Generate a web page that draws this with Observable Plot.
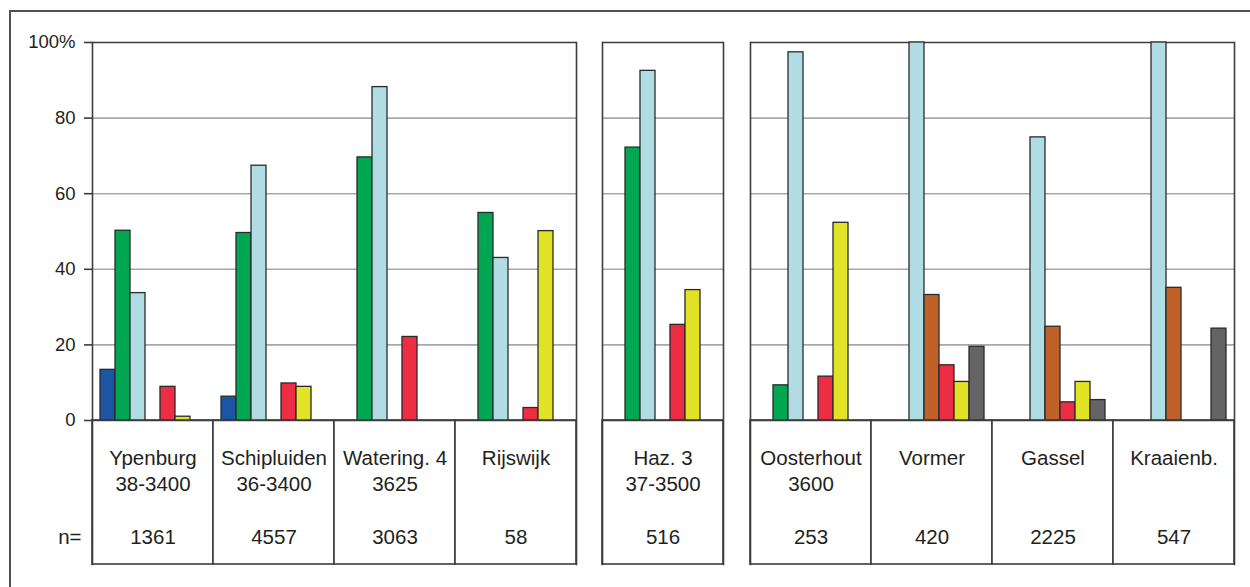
<!DOCTYPE html>
<html>
<head>
<meta charset="utf-8">
<script src="https://cdn.jsdelivr.net/npm/d3@7"></script>
<script src="https://cdn.jsdelivr.net/npm/@observablehq/plot@0.6"></script>
<style>
  html, body { margin: 0; padding: 0; background: #fff; }
  #wrap { position: relative; width: 1250px; height: 587px; overflow: hidden; background: #fff; }
  #outer { position: absolute; left: 9px; top: 10px; width: 1260px; height: 600px;
           border-top: 2px solid #505050; border-left: 2px solid #505050; box-sizing: border-box; }
  .panel { position: absolute; top: 0; }
</style>
</head>
<body>
<div id="wrap"><div id="outer"></div></div>
<script>
// ---- data ----
const sites = ["Ypenburg", "Schipluiden", "Watering. 4", "Rijswijk", "Haz. 3", "Oosterhout", "Vormer", "Gassel", "Kraaienb."];
const siteCodes = ["38-3400", "36-3400", "3625", "", "37-3500", "3600", "", "", ""];
const nValues = [1361, 4557, 3063, 58, 516, 253, 420, 2225, 547];
const panelGroups = [
  ["Ypenburg", "Schipluiden", "Watering. 4", "Rijswijk"],
  ["Haz. 3"],
  ["Oosterhout", "Vormer", "Gassel", "Kraaienb."]
];
const seriesKeys = ["blauw", "groen", "lichtblauw", "bruin", "rood", "geel", "grijs"];
const blauw      = [13.4, 6.3, null, null, null, null, null, null, null];
const groen      = [50.2, 49.6, 69.6, 54.9, 72.2, 9.3, null, null, null];
const lichtblauw = [33.7, 67.4, 88.2, 43.0, 92.5, 97.4, 100, 74.9, 100];
const bruin      = [null, null, null, null, null, null, 33.2, 24.8, 35.1];
const rood       = [8.9, 9.8, 22.1, 3.3, 25.3, 11.6, 14.6, 4.8, null];
const geel       = [1.0, 8.9, null, 50.1, 34.5, 52.3, 10.2, 10.2, null];
const grijs      = [null, null, null, null, null, null, 19.5, 5.4, 24.3];
const yTicks = [0, 20, 40, 60, 80, 100];

// ---- build tables ----
const seriesValues = {blauw, groen, lichtblauw, bruin, rood, geel, grijs};
const bars = [];
sites.forEach((site, i) => {
  seriesKeys.forEach(k => {
    const v = seriesValues[k][i];
    if (v != null) bars.push({site, series: k, value: v});
  });
});
const siteRows = sites.map((site, i) => ({site, code: siteCodes[i], n: nValues[i]}));

const colors = ["#1b55a3", "#00a651", "#b0dde4", "#c1612a", "#ed2d44", "#e2e226", "#646466"];
const font = "'Liberation Sans', Arial, Helvetica, sans-serif";
const textColor = "#231f20";
const lineColor = "#3c3c3c";
const tableBottom = -38.1; // depth of the label table beneath the zero line (y units)

const layouts = [
  {left: 0, width: 580, marginLeft: 92, marginRight: 4},
  {left: 598, width: 129, marginLeft: 4, marginRight: 4},
  {left: 745, width: 493, marginLeft: 4, marginRight: 4}
];

panelGroups.forEach((group, p) => {
  const L = layouts[p];
  const inPanel = d => group.includes(d.site);
  const marks = [
    Plot.ruleY([20, 40, 60, 80], {stroke: "#a8a8a8", strokeWidth: 1.6}),
    Plot.barY(siteRows.filter(inPanel), {fx: "site", y1: tableBottom, y2: 0, fill: "white", stroke: lineColor, strokeWidth: 1.6}),
    Plot.ruleY([100], {stroke: lineColor, strokeWidth: 1.6}),
    Plot.frame({anchor: "left", facetAnchor: "left", stroke: lineColor, strokeWidth: 1.6}),
    Plot.frame({anchor: "right", facetAnchor: "right", stroke: lineColor, strokeWidth: 1.6}),
    Plot.barY(bars.filter(inPanel), {fx: "site", x: "series", y: "value", fill: "series", stroke: "#2a2a2a", strokeWidth: 1.3}),
    Plot.ruleY([0], {stroke: lineColor, strokeWidth: 1.6}),
    Plot.text(siteRows.filter(inPanel), {fx: "site", y: 0, dy: 38, text: "site", fontSize: 20.5, fill: textColor}),
    Plot.text(siteRows.filter(inPanel), {fx: "site", y: 0, dy: 64, text: "code", fontSize: 20.5, fill: textColor}),
    Plot.text(siteRows.filter(inPanel), {fx: "site", y: 0, dy: 117, text: d => String(d.n), fontSize: 20.5, fill: textColor})
  ];
  if (p === 0) {
    marks.push(
      Plot.axisY({ticks: yTicks, tickFormat: d => d === 100 ? "100%" : String(d), tickSize: 8, tickPadding: 9,
                  label: null, fontSize: 18.5, stroke: lineColor, strokeWidth: 1.6, fill: textColor}),
      Plot.text(["n="], {fx: () => group[0], y: 0, dy: 117, frameAnchor: "left", textAnchor: "end", dx: -11,
                         fontSize: 20.5, fill: textColor})
    );
  }
  const chart = Plot.plot({
    width: L.width,
    height: 587,
    marginTop: 42,
    marginBottom: 23,
    marginLeft: L.marginLeft,
    marginRight: L.marginRight,
    fx: {domain: group, padding: 0, axis: null},
    x: {domain: seriesKeys, paddingInner: 0, paddingOuter: 0.5, axis: null},
    y: {domain: [tableBottom, 100], axis: null, label: null},
    color: {domain: seriesKeys, range: colors},
    style: {fontFamily: font, background: "transparent", overflow: "visible"},
    marks
  });
  const div = document.createElement("div");
  div.className = "panel";
  div.style.left = L.left + "px";
  div.appendChild(chart);
  document.getElementById("wrap").appendChild(div);
});
</script>
</body>
</html>
